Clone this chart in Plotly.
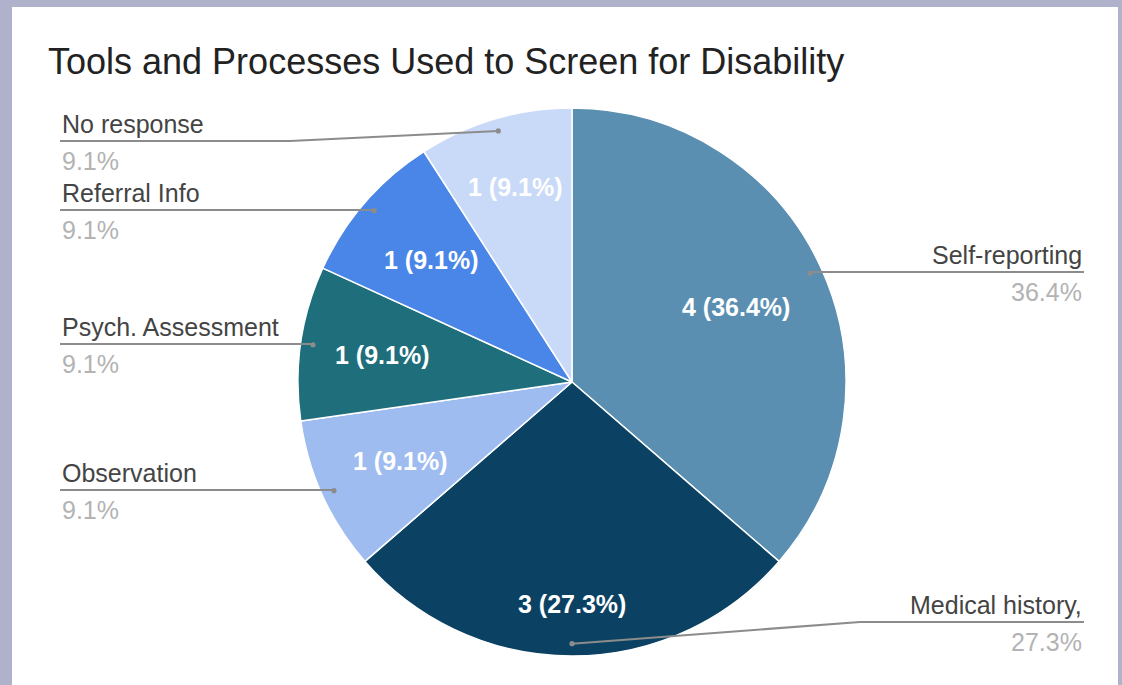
import math
import plotly.graph_objects as go

# ---- data ----
categories = ["Self-reporting", "Medical history,", "Observation",
              "Psych. Assessment", "Referral Info", "No response"]
counts = [4, 3, 1, 1, 1, 1]
slice_colors = ["#5a8fb2", "#0b4263", "#9ebcef", "#1e6e7b", "#4a86e8", "#c9daf8"]

# callout placement for each category: side, y of the leader line (px), elbow x (px or None)
label_side = ["right", "right", "left", "left", "left", "left"]
label_line_y = [272, 622, 490, 344, 210, 141]
label_elbow_x = [None, 860, None, None, None, 290]
# radial position (fraction of radius) of the in-slice value label
inner_label_r = [0.66, 0.81, 0.69, 0.70, 0.68, 0.74]

# ---- layout geometry (pixels) ----
W, H = 1122, 685
CX, CY, R = 572, 382, 274
LEFT_X, RIGHT_X = 60, 1084
FRAME = "#b0b2cc"
FONT = "Arial, Liberation Sans, sans-serif"


def fx(x):
    return x / W


def fy(y):
    return 1 - y / H


total = sum(counts)

fig = go.Figure(go.Pie(
    labels=categories,
    values=counts,
    sort=False,
    direction="clockwise",
    rotation=0,
    marker=dict(colors=slice_colors, line=dict(color="white", width=1.5)),
    textinfo="none",
    hoverinfo="label+value+percent",
    domain=dict(x=[fx(CX - R), fx(CX + R)], y=[fy(CY + R), fy(CY - R)]),
))

shapes = [
    # white card on the lavender frame
    dict(type="rect", xref="paper", yref="paper", layer="below",
         x0=fx(12), x1=fx(1118), y0=0, y1=fy(7),
         fillcolor="white", line=dict(width=0)),
]
annotations = [
    dict(text="Tools and Processes Used to Screen for Disability",
         xref="paper", yref="paper", x=fx(46), y=fy(62),
         xanchor="left", yanchor="middle", showarrow=False,
         font=dict(family=FONT, size=36, color="#222222")),
]

LINE_COLOR = "#8c8c8c"
cum = 0
for name, cnt, side, ly, ex, ir in zip(categories, counts, label_side,
                                       label_line_y, label_elbow_x, inner_label_r):
    mid = math.radians((cum + cnt / 2) / total * 360)
    cum += cnt
    s, c = math.sin(mid), math.cos(mid)
    pct = cnt / total * 100

    # value label inside the slice
    annotations.append(dict(text=f"<b>{cnt} ({pct:.1f}%)</b>", xref="paper", yref="paper",
                            x=fx(CX + ir * R * s), y=fy(CY - ir * R * c),
                            xanchor="center", yanchor="middle", showarrow=False,
                            font=dict(family=FONT, size=25, color="white")))

    # leader line from the slice edge to the callout
    dx = CX + 0.955 * R * s
    dy = CY - 0.955 * R * c
    end_x = RIGHT_X if side == "right" else LEFT_X
    pts = [(dx, dy), (ex if ex is not None else dx, ly), (end_x, ly)]
    for (x0, y0), (x1, y1) in zip(pts[:-1], pts[1:]):
        shapes.append(dict(type="line", xref="paper", yref="paper", layer="above",
                           x0=fx(x0), y0=fy(y0), x1=fx(x1), y1=fy(y1),
                           line=dict(color=LINE_COLOR, width=2)))
    rr = 2.6
    shapes.append(dict(type="circle", xref="paper", yref="paper", layer="above",
                       x0=fx(dx - rr), x1=fx(dx + rr), y0=fy(dy + rr), y1=fy(dy - rr),
                       fillcolor=LINE_COLOR, line=dict(width=0)))

    anchor = "right" if side == "right" else "left"
    annotations.append(dict(text=name, xref="paper", yref="paper",
                            x=fx(end_x), y=fy(ly - 17), xanchor=anchor,
                            yanchor="middle", showarrow=False,
                            font=dict(family=FONT, size=25, color="#444444")))
    annotations.append(dict(text=f"{pct:.1f}%", xref="paper", yref="paper",
                            x=fx(end_x), y=fy(ly + 20), xanchor=anchor,
                            yanchor="middle", showarrow=False,
                            font=dict(family=FONT, size=25, color="#b3b3b3")))

fig.update_layout(
    width=W, height=H,
    margin=dict(l=0, r=0, t=0, b=0),
    paper_bgcolor=FRAME,
    plot_bgcolor="white",
    showlegend=False,
    shapes=shapes,
    annotations=annotations,
)

fig.write_html("out.html", config={"displayModeBar": False})
